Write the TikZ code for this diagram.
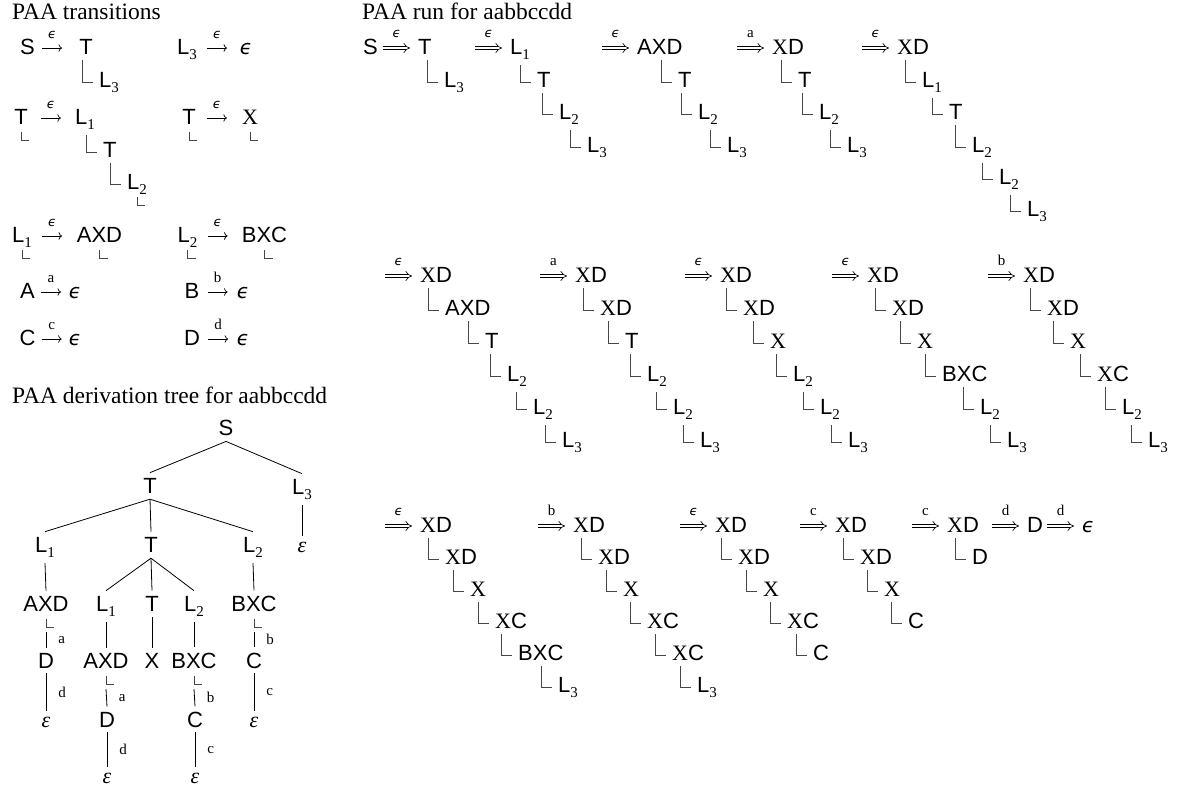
\documentclass[tikz,border=0pt]{standalone}
\usepackage{fontspec}
\setmainfont{Liberation Serif}
\newfontfamily\sansf{Liberation Sans}
\newfontfamily\epsf{DejaVu Sans}
\usetikzlibrary{calc,arrows.meta}

\newcommand\sz{\fontsize{22}{26}\selectfont}
\newcommand\ssz{\fontsize{15}{17}\selectfont}
\newcommand\Lsub[1]{L\raisebox{-5pt}{\rmfamily\ssz #1}}
\newcommand\Xs{{\rmfamily X}}
\newcommand\eps{{\epsf\itshape\fontsize{20}{24}\selectfont ϵ}}
\newcommand\seps{{\epsf\itshape\fontsize{13}{15}\selectfont ϵ}}
\newcommand\veps{{\rmfamily\itshape ε}}

\tikzset{
  sy/.style={inner sep=0pt, font=\sansf\sz},
  ttl/.style={inner sep=0pt, font=\rmfamily\fontsize{23.5}{28}\selectfont, anchor=base west},
  lab/.style={inner sep=0pt, font=\rmfamily\ssz, anchor=base},
  cr/.style={draw=black!72, line width=0.7pt},
  ed/.style={draw=black, line width=0.8pt},
  sar/.style={line width=0.7pt, -{To[length=3.5pt,width=7.5pt]}},
  dar/.style={double, double distance=2.8pt, line width=0.65pt, -{Implies}},
}

% child in a stack: parent, name, x of text, baseline, text
\newcommand\kid[5]{%
  \node[sy, anchor=base west] (#2) at (#3,#4) {#5};
  \draw[cr] ($(#2.base west |- #1.south)+(-17,6)$) |- ($(#2.base west)+(-6,-5)$);
}
% small corner mark below a node
\newcommand\mk[1]{\draw[cr] ($(#1.base)+(0,8)$) -- ++(0,8) -- ++(8,0);}
% run arrow into a configuration
\newcommand\rarr[2]{\draw[dar] ($(#1.base west)+(-35,-6)$) -- ($(#1.base west)+(-8,-6)$) node[lab, midway, yshift=11pt]{#2};}
% transition arrow from a source node
\newcommand\tarr[3]{\draw[sar] ($(#1.base east)+(#2,-6)$) -- ++(20,0) node[lab, midway, yshift=10pt]{#3};}
% tree edges
\newcommand\edge[2]{\draw[ed] ($(#1.south)+(0,6)$) -- ($(#2.north)+(0,-5)$);}
\newcommand\ledge[4]{\draw[ed] ($(#1.base)+(0,#4)$) -- ($(#2.north)+(0,-5)$) node[lab, midway, anchor=west, xshift=12pt]{#3};}

\begin{document}
\begin{tikzpicture}[x=1pt,y=-1pt]
\fill[white] (0,0) rectangle (1179,793);
\useasboundingbox (0,0) rectangle (1179,793);

% ================= PAA transitions =================
\node[ttl] (t1) at (12,19) {PAA transitions};

% row A
\node[sy, anchor=base] (pS) at (27.5,54) {S};
\tarr{pS}{7}{\seps}
\node[sy, anchor=base] (pT) at (86,54) {T};
\kid{pT}{pTa}{99}{87}{\Lsub3}
\node[sy, anchor=base] (qL3) at (187,54) {\Lsub3};
\tarr{qL3}{10}{\seps}
\node[sy, anchor=base] (qE) at (246,54) {\eps};

% row B
\node[sy, anchor=base] (pT2) at (21,124) {T};
\mk{pT2}
\tarr{pT2}{13}{\seps}
\node[sy, anchor=base west] (pL1) at (75,124) {\Lsub1};
\kid{pL1}{pT3}{103}{157}{T}
\kid{pT3}{pL2}{127}{189}{\Lsub2}
\mk{pL2}
\node[sy, anchor=base] (qT) at (189,124) {T};
\mk{qT}
\tarr{qT}{11}{\seps}
\node[sy, anchor=base] (qX) at (250,124) {\Xs};
\mk{qX}

% row C
\node[sy, anchor=base] (pL1b) at (22,242) {\Lsub1};
\mk{pL1b}
\tarr{pL1b}{10}{\seps}
\node[sy, anchor=base] (pAXD) at (99.5,242) {AXD};
\mk{pAXD}
\node[sy, anchor=base] (qL2) at (187.5,242) {\Lsub2};
\mk{qL2}
\tarr{qL2}{10}{\seps}
\node[sy, anchor=base] (qBXC) at (264.5,242) {BXC};
\mk{qBXC}

% row D
\node[sy, anchor=base] (pA) at (27.5,298) {A};
\tarr{pA}{6}{a}
\node[sy, anchor=base] (pAe) at (75,298) {\eps};
\node[sy, anchor=base] (qB) at (192,298) {B};
\tarr{qB}{8}{b}
\node[sy, anchor=base] (qBe) at (243,298) {\eps};

% row E
\node[sy, anchor=base] (pC) at (27.5,345) {C};
\tarr{pC}{6}{c}
\node[sy, anchor=base] (pCe) at (75,345) {\eps};
\node[sy, anchor=base] (qD) at (192,345) {D};
\tarr{qD}{8}{d}
\node[sy, anchor=base] (qDe) at (243,345) {\eps};

% ================= derivation tree =================
\node[ttl] (t2) at (12,403) {PAA derivation tree for aabbccdd};
\node[sy, anchor=base] (dS) at (226,435) {S};
\node[sy, anchor=base] (dT) at (150,493) {T};
\node[sy, anchor=base] (dL3) at (302,494) {\Lsub3};
\node[sy, anchor=base] (dL1) at (45,552) {\Lsub1};
\node[sy, anchor=base] (dT2) at (151,552) {T};
\node[sy, anchor=base] (dL2) at (253,552) {\Lsub2};
\node[sy, anchor=base] (dE0) at (302,552) {\veps};
\node[sy, anchor=base] (dAXD) at (46,611) {AXD};
\node[sy, anchor=base] (dL1b) at (106,611) {\Lsub1};
\node[sy, anchor=base] (dT3) at (152,611) {T};
\node[sy, anchor=base] (dL2b) at (194,611) {\Lsub2};
\node[sy, anchor=base] (dBXC) at (254,611) {BXC};
\node[sy, anchor=base] (dD) at (46,668) {D};
\node[sy, anchor=base] (dAXDb) at (106,668) {AXD};
\node[sy, anchor=base] (dX) at (152,668) {X};
\node[sy, anchor=base] (dBXCb) at (194,668) {BXC};
\node[sy, anchor=base] (dC) at (254,668) {C};
\node[sy, anchor=base] (dE1) at (46,727) {\veps};
\node[sy, anchor=base] (dD2) at (107,727) {D};
\node[sy, anchor=base] (dC2) at (195,727) {C};
\node[sy, anchor=base] (dE2) at (254,727) {\veps};
\node[sy, anchor=base] (dE3) at (107,783) {\veps};
\node[sy, anchor=base] (dE4) at (195,783) {\veps};

\edge{dS}{dT}
\edge{dS}{dL3}
\edge{dT}{dL1}
\edge{dT}{dT2}
\edge{dT}{dL2}
\edge{dL3}{dE0}
\edge{dL1}{dAXD}
\edge{dT2}{dL1b}
\edge{dT2}{dT3}
\edge{dT2}{dL2b}
\edge{dL2}{dBXC}
\edge{dL1b}{dAXDb}
\edge{dT3}{dX}
\edge{dL2b}{dBXCb}
\mk{dAXD}
\mk{dBXC}
\mk{dAXDb}
\mk{dBXCb}
\ledge{dAXD}{dD}{a}{21}
\ledge{dD}{dE1}{d}{5}
\ledge{dBXC}{dC}{b}{21}
\ledge{dC}{dE2}{c}{5}
\ledge{dAXDb}{dD2}{a}{21}
\ledge{dD2}{dE3}{d}{5}
\ledge{dBXCb}{dC2}{b}{21}
\ledge{dC2}{dE4}{c}{5}

% ================= PAA run =================
\node[ttl] (t3) at (362,19) {PAA run for aabbccdd};

% row 1
\node[sy, anchor=base west] (a0) at (363,54) {S};
\node[sy, anchor=base west] (a1) at (418,54) {T};
\rarr{a1}{\seps}
\kid{a1}{a1a}{444}{87}{\Lsub3}
\node[sy, anchor=base west] (a2) at (510,54) {\Lsub1};
\rarr{a2}{\seps}
\kid{a2}{a2a}{537}{87}{T}
\kid{a2a}{a2b}{559}{119}{\Lsub2}
\kid{a2b}{a2c}{587}{152}{\Lsub3}
\node[sy, anchor=base west] (a3) at (637,54) {AXD};
\rarr{a3}{\seps}
\kid{a3}{a3a}{678}{87}{T}
\kid{a3a}{a3b}{698}{119}{\Lsub2}
\kid{a3b}{a3c}{727}{152}{\Lsub3}
\node[sy, anchor=base west] (a4) at (772,54) {\Xs D};
\rarr{a4}{a}
\kid{a4}{a4a}{798}{87}{T}
\kid{a4a}{a4b}{819}{119}{\Lsub2}
\kid{a4b}{a4c}{847}{152}{\Lsub3}
\node[sy, anchor=base west] (a5) at (897,54) {\Xs D};
\rarr{a5}{\seps}
\kid{a5}{a5a}{922}{87}{\Lsub1}
\kid{a5a}{a5b}{949}{119}{T}
\kid{a5b}{a5c}{972}{152}{\Lsub2}
\kid{a5c}{a5d}{999}{184}{\Lsub2}
\kid{a5d}{a5e}{1027}{216}{\Lsub3}

% row 2
\node[sy, anchor=base west] (b1) at (420,282) {\Xs D};
\rarr{b1}{\seps}
\kid{b1}{b1a}{445}{315}{AXD}
\kid{b1a}{b1b}{485}{348}{T}
\kid{b1b}{b1c}{507}{381}{\Lsub2}
\kid{b1c}{b1d}{533}{414}{\Lsub2}
\kid{b1d}{b1e}{562}{447}{\Lsub3}
\node[sy, anchor=base west] (b2) at (575,282) {\Xs D};
\rarr{b2}{a}
\kid{b2}{b2a}{600}{315}{\Xs D}
\kid{b2a}{b2b}{625}{348}{T}
\kid{b2b}{b2c}{647}{381}{\Lsub2}
\kid{b2c}{b2d}{673}{414}{\Lsub2}
\kid{b2d}{b2e}{700}{447}{\Lsub3}
\node[sy, anchor=base west] (b3) at (720,282) {\Xs D};
\rarr{b3}{\seps}
\kid{b3}{b3a}{743}{315}{\Xs D}
\kid{b3a}{b3b}{770}{348}{\Xs}
\kid{b3b}{b3c}{793}{381}{\Lsub2}
\kid{b3c}{b3d}{820}{414}{\Lsub2}
\kid{b3d}{b3e}{848}{447}{\Lsub3}
\node[sy, anchor=base west] (b4) at (867,282) {\Xs D};
\rarr{b4}{\seps}
\kid{b4}{b4a}{892}{315}{\Xs D}
\kid{b4a}{b4b}{917}{348}{\Xs}
\kid{b4b}{b4c}{942}{381}{BXC}
\kid{b4c}{b4d}{980}{414}{\Lsub2}
\kid{b4d}{b4e}{1007}{447}{\Lsub3}
\node[sy, anchor=base west] (b5) at (1023,282) {\Xs D};
\rarr{b5}{b}
\kid{b5}{b5a}{1047}{315}{\Xs D}
\kid{b5a}{b5b}{1070}{348}{\Xs}
\kid{b5b}{b5c}{1097}{381}{\Xs C}
\kid{b5c}{b5d}{1122}{414}{\Lsub2}
\kid{b5d}{b5e}{1148}{447}{\Lsub3}

% row 3
\node[sy, anchor=base west] (c1) at (420,532) {\Xs D};
\rarr{c1}{\seps}
\kid{c1}{c1a}{445}{564}{\Xs D}
\kid{c1a}{c1b}{470}{596}{\Xs}
\kid{c1b}{c1c}{495}{628}{\Xs C}
\kid{c1c}{c1d}{518}{660}{BXC}
\kid{c1d}{c1e}{558}{692}{\Lsub3}
\node[sy, anchor=base west] (c2) at (573,532) {\Xs D};
\rarr{c2}{b}
\kid{c2}{c2a}{598}{564}{\Xs D}
\kid{c2a}{c2b}{623}{596}{\Xs}
\kid{c2b}{c2c}{647}{628}{\Xs C}
\kid{c2c}{c2d}{672}{660}{\Xs C}
\kid{c2d}{c2e}{697}{692}{\Lsub3}
\node[sy, anchor=base west] (c3) at (715,532) {\Xs D};
\rarr{c3}{\seps}
\kid{c3}{c3a}{738}{564}{\Xs D}
\kid{c3a}{c3b}{763}{596}{\Xs}
\kid{c3b}{c3c}{787}{628}{\Xs C}
\kid{c3c}{c3d}{813}{660}{C}
\node[sy, anchor=base west] (c4) at (835,532) {\Xs D};
\rarr{c4}{c}
\kid{c4}{c4a}{860}{564}{\Xs D}
\kid{c4a}{c4b}{884}{596}{\Xs}
\kid{c4b}{c4c}{908}{628}{C}
\node[sy, anchor=base west] (c5) at (947,532) {\Xs D};
\rarr{c5}{c}
\kid{c5}{c5a}{972}{564}{D}
\node[sy, anchor=base west] (c6) at (1027,532) {D};
\rarr{c6}{d}
\node[sy, anchor=base west] (c7) at (1082,532) {\eps};
\rarr{c7}{d}
\end{tikzpicture}
\end{document}
